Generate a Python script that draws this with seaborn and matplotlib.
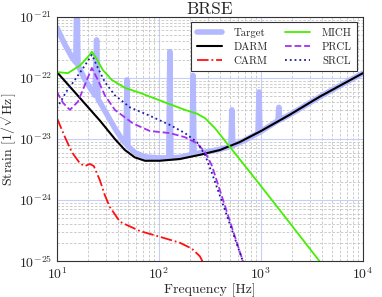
import numpy as np
import pandas as pd
import seaborn as sns
import matplotlib
matplotlib.use('Agg')
import matplotlib.pyplot as plt
from matplotlib.ticker import LogLocator, NullFormatter

# Data (frequency in Hz, strain in 1/sqrt(Hz))
targetF = [10, 12, 14, 15.3, 15.7, 16.1, 18.8, 21, 23.6, 24.5, 25.3, 29.5, 37, 44,
           47.5, 48.6, 49.7, 58, 73, 100, 125, 128, 131, 160, 211, 216, 221, 300, 400,
           508, 519, 530, 700, 937, 958, 980, 1470, 1500, 1530, 2000, 4000, 10000]
targetH = [6.6e-22, 3.5e-22, 2.2e-22, 1.8e-22, 3e-21, 1.6e-22, 9.5e-23, 7e-23, 5.2e-23, 4.2e-22, 4.5e-23,
           2.9e-23, 1.5e-23, 9.5e-24, 8.3e-24, 9.3e-23, 7.6e-24, 6.0e-24, 5.1e-24, 4.9e-24, 4.9e-24,
           2.7e-22, 4.9e-24, 5.0e-24, 5.6e-24, 1.1e-22, 5.7e-24, 6.2e-24, 6.8e-24, 7.6e-24, 3.0e-23,
           7.8e-24, 9.6e-24, 1.25e-23, 5.9e-23, 1.3e-23, 2.0e-23, 3.3e-23, 2.05e-23, 2.6e-23, 5.2e-23, 1.2e-22]

darmF = [10, 16.8, 26.4, 37, 46.4, 58, 73, 102, 160, 252, 396, 620, 1000, 1920, 3750, 10000]
darmH = [1.25e-22, 4.7e-23, 2.0e-23, 1.0e-23, 6.6e-24, 5.0e-24, 4.4e-24, 4.4e-24, 4.7e-24,
         5.5e-24, 6.6e-24, 8.9e-24, 1.35e-23, 2.5e-23, 4.9e-23, 1.2e-22]

carmF = [10, 12, 14, 16.8, 18.8, 21, 23, 26.4, 29.5, 33, 41.5, 65.2, 102, 160, 210, 252, 285]
carmH = [2.2e-23, 1.07e-23, 6.1e-24, 4.0e-24, 3.6e-24, 3.9e-24, 3.6e-24, 2.1e-24, 1.2e-24,
         7.7e-25, 4.4e-25, 3.1e-25, 2.5e-25, 2.0e-25, 1.6e-25, 1.2e-25, 8e-26]

michF = [10, 12.8, 16.8, 20.1, 22, 24.7, 28.2, 34.5, 46.4, 65.2, 114, 180, 236, 283, 355,
         497, 1000, 1920, 3750, 5000]
michH = [1.25e-22, 1.2e-22, 1.6e-22, 2.2e-22, 2.7e-22, 2.0e-22, 1.35e-22, 9.3e-23, 6.9e-23,
         5.7e-23, 4.0e-23, 3.0e-23, 2.6e-23, 2.2e-23, 1.5e-23, 7.4e-24, 1.7e-24, 4.2e-25, 1e-25, 5.5e-26]

prclF = [10, 11.5, 13.4, 16.1, 18.8, 22, 25.2, 29.5, 37, 55.6, 81.6, 128, 180, 236, 283, 330, 665, 800]
prclH = [5.9e-23, 3.9e-23, 3.0e-23, 4.1e-23, 7.7e-23, 1.46e-22, 9.3e-23, 5.2e-23, 3.0e-23,
         1.8e-23, 1.35e-23, 1.25e-23, 1.07e-23, 8.5e-24, 6.1e-24, 3.7e-24, 1e-25, 4e-26]

srclF = [10, 12.3, 15, 18.8, 22, 25.2, 29.5, 37, 52, 81.6, 128, 180, 236, 283, 330, 665, 800]
srclH = [3.2e-23, 5.9e-23, 9.3e-23, 1.6e-22, 2.4e-22, 1.46e-22, 8.6e-23, 5.2e-23, 3.3e-23,
         2.4e-23, 1.7e-23, 1.25e-23, 8.9e-24, 5.5e-24, 2.8e-24, 1e-25, 4e-26]

# Style
sns.set_style('white')
plt.rcParams['font.family'] = 'serif'
plt.rcParams['font.serif'] = ['cmr10', 'DejaVu Serif']
plt.rcParams['mathtext.fontset'] = 'cm'
plt.rcParams['axes.formatter.use_mathtext'] = True
plt.rcParams['axes.unicode_minus'] = False

fig = plt.figure(figsize=(3.82, 2.97), dpi=100)
ax = fig.add_axes([0.149, 0.121, 0.801, 0.822])

lw = 1.3
sns.lineplot(x=targetF, y=targetH, ax=ax, color=(0.70, 0.72, 1.0), lw=4, label='Target',
             estimator=None, sort=False)
sns.lineplot(x=darmF, y=darmH, ax=ax, color='k', lw=1.5, label='DARM', estimator=None, sort=False)
sns.lineplot(x=carmF, y=carmH, ax=ax, color='#ff1010', lw=lw, linestyle='-.', label='CARM',
             estimator=None, sort=False)
sns.lineplot(x=michF, y=michH, ax=ax, color='#44ee00', lw=lw, label='MICH', estimator=None, sort=False)
sns.lineplot(x=prclF, y=prclH, ax=ax, color='#a330f0', lw=lw, linestyle='--', label='PRCL',
             estimator=None, sort=False)
sns.lineplot(x=srclF, y=srclH, ax=ax, color='#1a1aa0', lw=lw, linestyle=':', label='SRCL',
             estimator=None, sort=False)

ax.set_xscale('log')
ax.set_yscale('log')
ax.set_xlim(10, 1e4)
ax.set_ylim(1e-25, 1e-21)
ax.xaxis.set_major_locator(LogLocator(base=10, numticks=10))
ax.yaxis.set_major_locator(LogLocator(base=10, numticks=10))
ax.xaxis.set_minor_locator(LogLocator(base=10, subs=np.arange(2, 10), numticks=20))
ax.yaxis.set_minor_locator(LogLocator(base=10, subs=np.arange(2, 10), numticks=20))
ax.xaxis.set_minor_formatter(NullFormatter())
ax.yaxis.set_minor_formatter(NullFormatter())
ax.grid(True, which='major', color='#c8cdfa', lw=0.8, ls='-')
ax.grid(True, which='minor', color='#c4c4c4', lw=0.6, ls=(0, (3, 2)))
ax.set_axisbelow(True)
ax.tick_params(which='both', direction='in', length=0, labelsize=10)
for s in ax.spines.values():
    s.set_color('#333333')
    s.set_linewidth(0.8)

ax.set_xlabel('Frequency [Hz]', fontsize=10, labelpad=1)
ax.set_ylabel(r'Strain $[1/\sqrt{\mathrm{Hz}}]$', fontsize=10, labelpad=0)
ax.set_title('BRSE', fontsize=12.5, pad=2)

leg = ax.legend(ncol=2, loc='upper right', fontsize=7.8, fancybox=False, edgecolor='#333333',
                framealpha=1, handlelength=2.3, columnspacing=1.6, borderaxespad=0.5,
                labelspacing=0.4, handletextpad=1.1, borderpad=0.5)
leg.get_frame().set_linewidth(0.8)

fig.savefig('out.png', dpi=100)
